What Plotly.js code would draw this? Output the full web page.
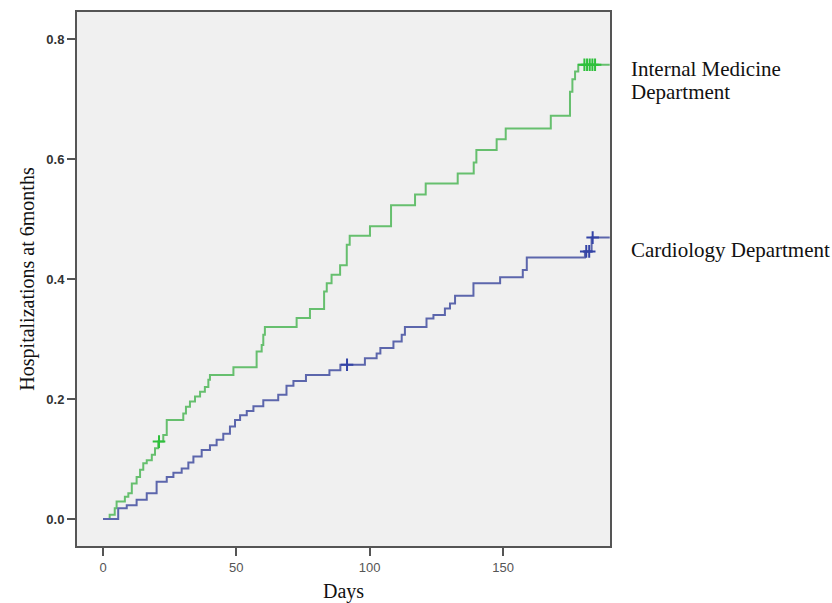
<!DOCTYPE html>
<html>
<head>
<meta charset="utf-8">
<script src="https://cdn.plot.ly/plotly-3.0.1.min.js"></script>
<style>html,body{margin:0;padding:0;background:#fff;}#chart{width:832px;height:603px;}</style>
</head>
<body>
<div id="chart"></div>
<script>
// Internal Medicine Department (green) step curve
const imDays = [0, 2.5, 4.4, 5.1, 8.2, 9.5, 10.8, 12.6, 13.9, 15.1, 16.4, 18.3, 19.5, 20.7, 22.6, 23.9, 30.1, 31.1, 32.6, 34.5, 36.4, 38.2, 39.5, 40.1, 48.9, 57.6, 59.5, 60.1, 60.7, 72.6, 77.6, 82.9, 83.9, 85.7, 88.9, 91.4, 92.5, 100.1, 108, 117, 121, 133, 139, 140, 147.6, 151, 167.9, 175.1, 176, 177, 178.2, 190];
const imVals = [0, 0.007, 0.018, 0.029, 0.037, 0.043, 0.059, 0.07, 0.082, 0.093, 0.098, 0.107, 0.118, 0.129, 0.14, 0.165, 0.176, 0.187, 0.196, 0.204, 0.212, 0.22, 0.232, 0.24, 0.253, 0.279, 0.29, 0.307, 0.32, 0.335, 0.35, 0.379, 0.393, 0.407, 0.423, 0.457, 0.472, 0.488, 0.523, 0.541, 0.559, 0.576, 0.594, 0.615, 0.633, 0.651, 0.672, 0.712, 0.733, 0.746, 0.757, 0.757];
const imCensDays = [21, 180.5, 181.5, 182.5, 183.5, 184.5];
const imCensVals = [0.129, 0.757, 0.757, 0.757, 0.757, 0.757];

// Cardiology Department (blue) step curve
const cdDays = [0, 5.7, 8.9, 12.6, 16.4, 20.1, 23.9, 26.4, 29.5, 32, 33.9, 37, 40.1, 42.6, 45.1, 47.6, 49.5, 51.4, 53.9, 56.4, 60.1, 65.7, 68.8, 71.4, 76.1, 84.9, 89, 98.2, 102.6, 104, 108.9, 112, 113.2, 121.3, 123.9, 128.2, 130.1, 132, 138.9, 148.9, 157.4, 158.9, 180.7, 183.2, 190];
const cdVals = [0, 0.018, 0.023, 0.032, 0.043, 0.062, 0.07, 0.077, 0.084, 0.094, 0.104, 0.115, 0.123, 0.132, 0.142, 0.154, 0.165, 0.173, 0.18, 0.188, 0.198, 0.207, 0.222, 0.23, 0.24, 0.248, 0.257, 0.268, 0.276, 0.285, 0.296, 0.307, 0.32, 0.334, 0.34, 0.351, 0.359, 0.372, 0.393, 0.403, 0.415, 0.436, 0.446, 0.469, 0.469];
const cdCensDays = [91.5, 181.2, 182.3, 183.6];
const cdCensVals = [0.257, 0.446, 0.446, 0.469];

const labelLines = ["Internal Medicine", "Department", "Cardiology Department"];
const labelVals = [0.75, 0.712, 0.448];
const xTicks = [0, 50, 100, 150];
const yTicks = [0, 0.2, 0.4, 0.6, 0.8];

const green = "#66bf6e", blue = "#5c66ac";
const serif = "Liberation Serif, Times New Roman, serif";

const traces = [
  {x: imDays, y: imVals, mode: "lines", line: {shape: "hv", color: green, width: 2}, hoverinfo: "skip"},
  {x: cdDays, y: cdVals, mode: "lines", line: {shape: "hv", color: blue, width: 2}, hoverinfo: "skip"},
  {x: imCensDays, y: imCensVals, mode: "markers", marker: {symbol: "cross-thin-open", size: 9, color: "#2fc03c", line: {color: "#2fc03c", width: 2}}},
  {x: cdCensDays, y: cdCensVals, mode: "markers", marker: {symbol: "cross-thin-open", size: 9, color: "#3343a6", line: {color: "#3343a6", width: 2}}}
];

const layout = {
  width: 832, height: 603,
  margin: {l: 77, r: 222, t: 12, b: 57},
  paper_bgcolor: "#ffffff",
  plot_bgcolor: "#f0f0f0",
  showlegend: false,
  xaxis: {
    range: [-9.75, 190.1], tickvals: xTicks, ticktext: xTicks.map(String),
    showgrid: false, zeroline: false,
    showline: true, mirror: true, linecolor: "#555", linewidth: 2,
    ticks: "outside", ticklen: 8, tickwidth: 2, tickcolor: "#555",
    tickfont: {family: "Liberation Sans, Arial, sans-serif", size: 13, color: "#555"},
    title: {text: "Days", font: {family: serif, size: 20, color: "#111"}, standoff: 10}
  },
  yaxis: {
    range: [-0.045, 0.845], tickvals: yTicks, ticktext: yTicks.map(v => v.toFixed(1)),
    showgrid: false, zeroline: false,
    showline: true, mirror: true, linecolor: "#555", linewidth: 2,
    ticks: "outside", ticklen: 8, tickwidth: 2, tickcolor: "#555",
    tickfont: {family: "Liberation Sans, Arial, sans-serif", size: 13, color: "#333", weight: "bold"},
    title: {text: "Hospitalizations at 6months", font: {family: serif, size: 20, color: "#111"}, standoff: 6}
  },
  annotations: labelLines.map((t, i) => ({
    xref: "paper", yref: "y", x: 1.035, y: labelVals[i], xanchor: "left", yanchor: "middle", align: "left",
    showarrow: false, text: t, font: {family: serif, size: 21, color: "#111"}
  }))
};

Plotly.newPlot("chart", traces, layout, {displayModeBar: false, staticPlot: true});
</script>
</body>
</html>
